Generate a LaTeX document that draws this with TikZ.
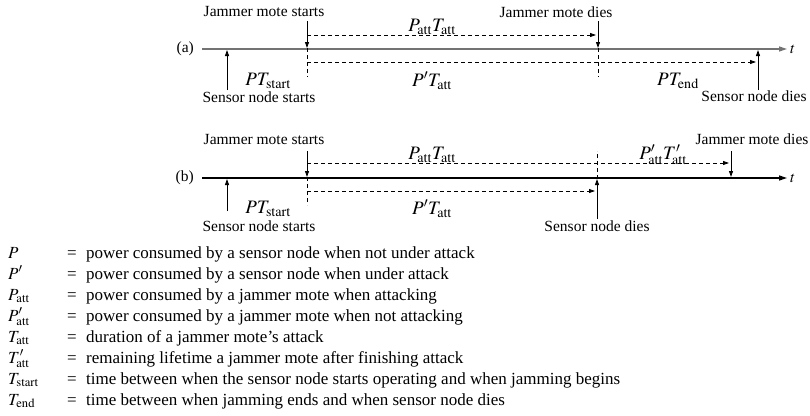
\documentclass[tikz,border=0pt]{standalone}
\usepackage{mathptmx}
\usepackage[no-math]{fontspec}
\setmainfont{Liberation Serif}
\usetikzlibrary{arrows.meta}
\newcommand{\att}{\mathrm{att}}
\begin{document}
\begin{tikzpicture}[x=1pt,y=-1pt,
  lbl/.style={font=\fontsize{15.5}{18}\selectfont, inner sep=0pt},
  lgd/.style={font=\fontsize{17}{20}\selectfont, inner sep=0pt, anchor=base west},
  axisline/.style={line width=1.3pt, -{Triangle[length=8pt,width=5pt]}},
  evt/.style={line width=0.9pt, -{Triangle[length=6pt,width=4pt]}},
  dsh/.style={line width=0.8pt, dash pattern=on 4pt off 3pt},
  dsharr/.style={dsh, -{Triangle[length=6pt,width=4pt]}}]
\useasboundingbox (0,0) rectangle (810,415);

% ---------------- panel (a)
\coordinate (aL) at (202,49);
\coordinate (aR) at (787,49);
\draw[axisline, draw=black!55, fill=black!55] (aL) -- (aR);
\node[lbl, anchor=east] (alab) at (194,49) {(a)};
\node[lbl, anchor=west] (at) at (790,49) {$t$};

\coordinate (aSs0) at (227,90);  \coordinate (aSs1) at (227,50);
\draw[evt] (aSs0) -- (aSs1);
\node[lbl] (aSsT) at (259,97) {Sensor node starts};

\coordinate (aJs0) at (307,21);  \coordinate (aJs1) at (307,48);
\draw[evt] (aJs0) -- (aJs1);
\node[lbl] (aJsT) at (264,12) {Jammer mote starts};
\coordinate (aJsD) at (307,77);
\draw[dsh] (aJs1) -- (aJsD);

\coordinate (aJd0) at (598,21);  \coordinate (aJd1) at (598,48);
\draw[evt] (aJd0) -- (aJd1);
\node[lbl] (aJdT) at (556,12) {Jammer mote dies};
\coordinate (aJdD) at (598,77);
\draw[dsh] (aJd1) -- (aJdD);

\coordinate (aU0) at (307,35);  \coordinate (aU1) at (596,35);
\draw[dsharr] (aU0) -- (aU1);
\coordinate (aD0) at (307,62);  \coordinate (aD1) at (756,62);
\draw[dsharr] (aD0) -- (aD1);

\coordinate (aSd0) at (758,90);  \coordinate (aSd1) at (758,50);
\draw[evt] (aSd0) -- (aSd1);
\node[lbl] (aSdT) at (754,96) {Sensor node dies};

\node[lbl] (aPT) at (432,27) {\fontsize{19}{22}\selectfont$P_{\att}T_{\att}$};
\node[lbl] (aPpT) at (432,81) {\fontsize{19}{22}\selectfont$P'T_{\att}$};
\node[lbl] (aPTs) at (268,81) {\fontsize{19}{22}\selectfont$PT_{\mathrm{start}}$};
\node[lbl] (aPTe) at (678,81) {\fontsize{19}{22}\selectfont$PT_{\mathrm{end}}$};

% ---------------- panel (b)
\coordinate (bL) at (202,178);
\coordinate (bR) at (787,178);
\draw[axisline] (bL) -- (bR);
\node[lbl, anchor=east] (blab) at (194,178) {(b)};
\node[lbl, anchor=west] (bt) at (790,178) {$t$};

\coordinate (bSs0) at (227,211);  \coordinate (bSs1) at (227,179);
\draw[evt] (bSs0) -- (bSs1);
\node[lbl] (bSsT) at (259,226) {Sensor node starts};

\coordinate (bJs0) at (307,151);  \coordinate (bJs1) at (307,177);
\draw[evt] (bJs0) -- (bJs1);
\node[lbl] (bJsT) at (264,139) {Jammer mote starts};
\coordinate (bJsD) at (307,205);
\draw[dsh] (bJs1) -- (bJsD);

\coordinate (bU0) at (307,163);  \coordinate (bU1) at (729,163);
\draw[dsharr] (bU0) -- (bU1);
\coordinate (bD0) at (307,191);  \coordinate (bD1) at (595,191);
\draw[dsharr] (bD0) -- (bD1);

\coordinate (bSd0) at (597,219);  \coordinate (bSd1) at (597,179);
\draw[evt] (bSd0) -- (bSd1);
\node[lbl] (bSdT) at (597,226) {Sensor node dies};
\coordinate (bSdD) at (597,151);
\draw[dsh] (bSd1) -- (bSdD);

\coordinate (bJd0) at (731,151);  \coordinate (bJd1) at (731,177);
\draw[evt] (bJd0) -- (bJd1);
\node[lbl] (bJdT) at (752,139) {Jammer mote dies};

\node[lbl] (bPT) at (432,155) {\fontsize{19}{22}\selectfont$P_{\att}T_{\att}$};
\node[lbl] (bPpT) at (432,209) {\fontsize{19}{22}\selectfont$P'T_{\att}$};
\node[lbl] (bPTs) at (268,209) {\fontsize{19}{22}\selectfont$PT_{\mathrm{start}}$};
\node[lbl] (bPpTp) at (663,155) {\fontsize{19}{22}\selectfont$P'_{\att}T'_{\att}$};

% ---------------- legend
\foreach \i/\sym/\txt in {
  0/{$P$}/{power consumed by a sensor node when not under attack},
  1/{$P'$}/{power consumed by a sensor node when under attack},
  2/{$P_{\att}$}/{power consumed by a jammer mote when attacking},
  3/{$P'_{\att}$}/{power consumed by a jammer mote when not attacking},
  4/{$T_{\att}$}/{duration of a jammer mote’s attack},
  5/{$T'_{\att}$}/{remaining lifetime a jammer mote after finishing attack},
  6/{$T_{\mathrm{start}}$}/{time between when the sensor node starts operating and when jamming begins},
  7/{$T_{\mathrm{end}}$}/{time between when jamming ends and when sensor node dies}}{
  \node[lgd] (s\i) at (8,258+21*\i) {\sym};
  \node[lgd] (e\i) at (67,258+21*\i) {=};
  \node[lgd] (d\i) at (86,258+21*\i) {\txt};
}
\end{tikzpicture}
\end{document}
